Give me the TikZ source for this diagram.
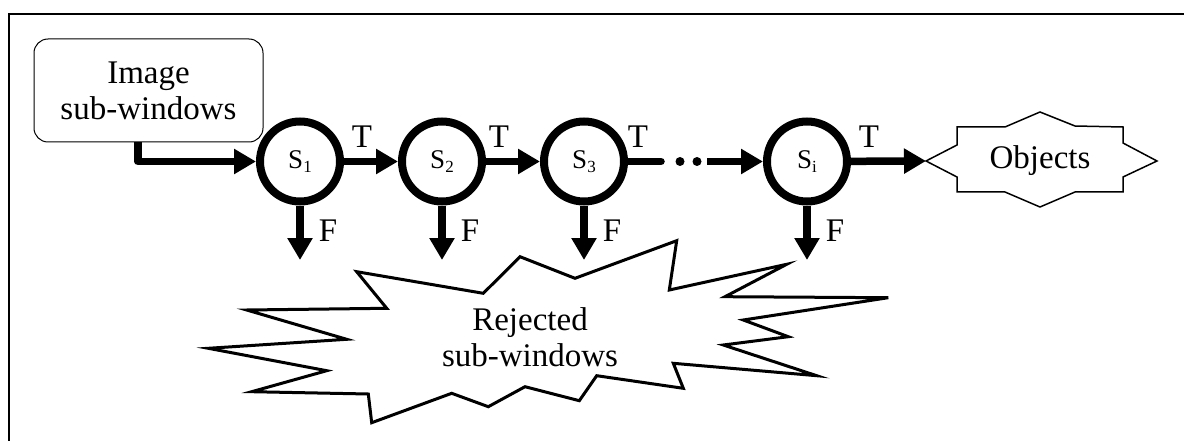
\documentclass[tikz,border=0pt]{standalone}
\usepackage{fontspec}
\setmainfont{Liberation Serif}
\usetikzlibrary{arrows.meta}
\newcommand\stsub[1]{\raisebox{-3.5pt}{\fontsize{17}{17}\selectfont #1}}
\begin{document}
\begin{tikzpicture}[x=1pt,y=-1pt,
  stage/.style={circle, draw, line width=8pt, minimum size=80pt, inner sep=0pt, font=\fontsize{27}{30}\selectfont},
  flow/.style={line width=7.5pt, -{Triangle[length=22pt,width=24pt]}},
  lbl/.style={font=\fontsize{33}{38}\selectfont, inner sep=0pt},
  big/.style={font=\fontsize{33}{36}\selectfont, align=center, inner sep=0pt},
  frameline/.style={line width=2pt},
  thinshape/.style={line width=1.5pt, line join=miter},
  starshape/.style={line width=3pt, line join=miter}
]
\useasboundingbox (0,0) rectangle (1184,441);
\draw[frameline] (9.3,445) -- (9.3,14) -- (1190,14);

% source box
\node[draw, rounded corners=14pt, line width=1pt, minimum width=229pt, minimum height=103pt, big] (src) at (148.5,90.5) {Image\\sub-windows};

% stages
\node[stage] (s1) at (300,161.5) {S\stsub{1}};
\node[stage] (s2) at (442,161.5) {S\stsub{2}};
\node[stage] (s3) at (584,161.5) {S\stsub{3}};
\node[stage] (si) at (807,161.5) {S\stsub{i}};

% objects shape
\coordinate (objtip) at (926,161);
\draw[thinshape] (objtip) -- (957,145) -- (957,127) -- (1005,127) -- (1040,112) -- (1075,126) -- (1123,127) -- (1123,143) -- (1157,161) -- (1123,177) -- (1123,192) -- (1075,192) -- (1040,207) -- (1005,192) -- (957,192) -- (957,177) -- cycle;
\node[lbl] (obj) at (1040,161) {Objects};

% rejected starburst
\draw[starshape] (356.7,271.7) -- (483.3,293.3) -- (520,256.7) -- (575,278.3) -- (676.7,240.7) -- (669.3,290) -- (786.7,264.3) -- (725,296.7) -- (888.3,297.7) -- (743.3,320) -- (788.3,336.7) -- (723.3,345) -- (816.7,375.7) -- (673.3,363.3) -- (683.3,388.3) -- (596.7,375.7) -- (579.3,400.7) -- (525,386.7) -- (488.3,406.7) -- (451.7,393.3) -- (371.7,422.7) -- (368.3,394) -- (251.7,391.7) -- (326.7,370.7) -- (208.3,348.3) -- (346.7,339.3) -- (246.7,310) -- (386.7,308.3) -- cycle;
\node[big] (rej) at (530,337) {Rejected\\sub-windows};

% connectors
\draw[flow, line join=round] ([xshift=-10.5pt]src.south) |- (s1);
\draw[flow] (s1) -- (s2);
\draw[flow] (s2) -- (s3);
\coordinate (d1) at (661,161.5);
\coordinate (d2) at (707,161.5);
\draw[line width=7.5pt, line cap=round] (s3) -- (d1);
\fill (680,161.5) circle (4.5pt);
\fill (697,161.5) circle (4.5pt);
\draw[flow] (d2) -- (si);
\draw[flow] (si) -- (objtip);

\coordinate (f1) at (300,260);
\coordinate (f2) at (442,260);
\coordinate (f3) at (584,260);
\coordinate (fi) at (807,260);
\draw[flow] (s1) -- (f1);
\draw[flow] (s2) -- (f2);
\draw[flow] (s3) -- (f3);
\draw[flow] (si) -- (fi);

% labels
\node[lbl] (t1) at (362,137) {T};
\node[lbl] (t2) at (499,137) {T};
\node[lbl] (t3) at (638,137) {T};
\node[lbl] (ti) at (869,137) {T};
\node[lbl] (fl1) at (328,231) {F};
\node[lbl] (fl2) at (470,231) {F};
\node[lbl] (fl3) at (612,231) {F};
\node[lbl] (fli) at (835,231) {F};
\end{tikzpicture}
\end{document}
